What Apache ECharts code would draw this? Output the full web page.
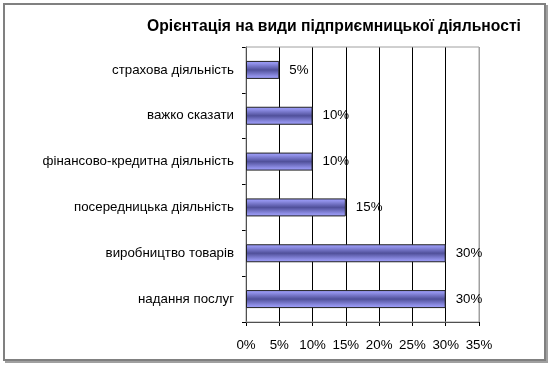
<!DOCTYPE html>
<html><head><meta charset="utf-8">
<script src="https://cdn.jsdelivr.net/npm/echarts@6/dist/echarts.min.js"></script>
<style>html,body{margin:0;padding:0;background:#fff}#c{width:556px;height:367px}</style>
</head><body><div id="c"></div>
<script>
const titleText = 'Орієнтація на види підприємницької діяльності';
const categories = ['надання послуг','виробництво товарів','посередницька діяльність','фінансово-кредитна діяльність','важко сказати','страхова діяльність'];
const values = [30,30,15,10,10,5];
const xTicks = [0,5,10,15,20,25,30,35];

const chart = echarts.init(document.getElementById('c'), null, {renderer:'canvas'});
const font = '"Liberation Sans", Arial, sans-serif';
chart.setOption({
  animation:false,
  textStyle:{fontFamily:font},
  graphic:[
    {type:'rect', shape:{x:6,y:6,width:541,height:356}, style:{fill:'none', stroke:'#a0a0a0', lineWidth:2}, z:-1},
    {type:'rect', shape:{x:4,y:4,width:541,height:356}, style:{fill:'#fff', stroke:'#808080', lineWidth:2}, z:0}
  ],
  title:{text:titleText, left:329, textAlign:'center', top:14,
    textStyle:{fontFamily:font, fontSize:15.7, fontWeight:'bold', color:'#000'}},
  grid:{left:246, right:77, top:47, bottom:45, show:true, borderColor:'#a0a0a0', borderWidth:1, backgroundColor:'transparent', z:2},
  xAxis:{type:'value', min:0, max:35, interval:5,
    axisLine:{show:true, lineStyle:{color:'#000'}},
    axisTick:{show:true, length:4, lineStyle:{color:'#000'}},
    axisLabel:{formatter: v => xTicks.includes(v) ? v + '%' : '', color:'#000', fontSize:13.3, fontFamily:font, margin:17},
    splitLine:{show:true, lineStyle:{color:['#000','#000','#000','#000','#000','#000','#000','#a0a0a0'], width:1}}
  },
  yAxis:{type:'category', data:categories,
    axisLine:{show:true, lineStyle:{color:'#000'}},
    axisTick:{show:true, length:4, lineStyle:{color:'#000'}},
    axisLabel:{color:'#000', fontSize:13.3, fontFamily:font, margin:12},
    splitLine:{show:false}
  },
  series:[{type:'bar', data:values, barWidth:18,
    itemStyle:{
      color:new echarts.graphic.LinearGradient(0,0,0,1,[
        {offset:0,color:'#a0a0ff'},{offset:0.15,color:'#9090e8'},{offset:0.5,color:'#50509a'},{offset:0.85,color:'#9090e8'},{offset:1,color:'#a0a0ff'}]),
      borderColor:'#222', borderWidth:1},
    label:{show:true, position:'right', distance:10, formatter:p => p.value + '%', color:'#000', fontSize:13.3, fontFamily:font}
  }]
});
</script></body></html>
